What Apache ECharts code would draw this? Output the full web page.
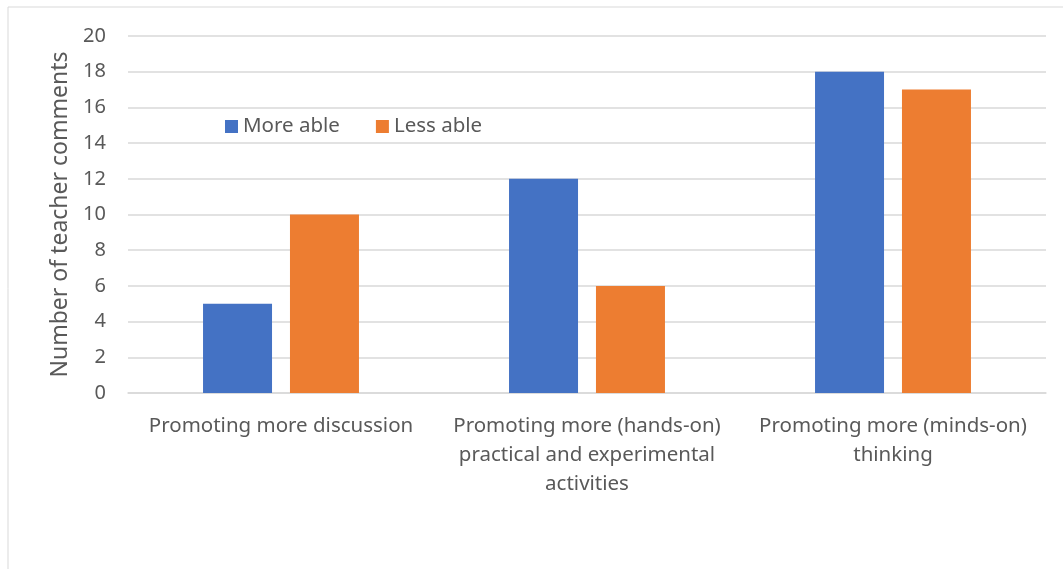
<!DOCTYPE html>
<html><head><meta charset="utf-8">
<script src="https://cdn.jsdelivr.net/npm/echarts@6/dist/echarts.min.js"></script>
<style>html,body{margin:0;padding:0;background:#fff}#c{width:1063px;height:569px}</style>
</head><body><div id="c"></div>
<script>
const categories = ["Promoting more discussion", "Promoting more (hands-on)\npractical and experimental\nactivities", "Promoting more (minds-on)\nthinking"];
const moreAble = [5, 12, 18];
const lessAble = [10, 6, 17];
const yTicks = [0, 2, 4, 6, 8, 10, 12, 14, 16, 18, 20];
const FONT = "'Noto Sans', 'Open Sans', sans-serif";
const chart = echarts.init(document.getElementById('c'));
chart.setOption({
  animation: false,
  graphic: [{type: 'rect', shape: {x: 8, y: 7, width: 1200, height: 800}, style: {fill: 'none', stroke: '#d9d9d9', lineWidth: 1}, silent: true}],
  legend: {
    left: 220, top: 111, itemWidth: 13, itemHeight: 13, itemGap: 36,
    textStyle: {fontFamily: FONT, fontSize: 20.5, color: '#595959'},
    data: [{name: 'More able', icon: 'rect'}, {name: 'Less able', icon: 'rect'}]
  },
  grid: {left: 128, right: 17, top: 36, bottom: 176, containLabel: false},
  xAxis: {
    type: 'category', data: categories,
    axisLine: {lineStyle: {color: '#d9d9d9', width: 1.5}},
    axisTick: {show: false},
    axisLabel: {fontFamily: FONT, fontSize: 20.5, color: '#595959', lineHeight: 29, margin: 19, interval: 0}
  },
  yAxis: {
    type: 'value', min: yTicks[0], max: yTicks[yTicks.length - 1], interval: 2,
    name: 'Number of teacher comments', nameLocation: 'middle', nameGap: 55,
    nameTextStyle: {fontFamily: FONT, fontSize: 23, color: '#595959'},
    axisLine: {show: false}, axisTick: {show: false},
    axisLabel: {fontFamily: FONT, fontSize: 20, color: '#595959', margin: 22},
    splitLine: {lineStyle: {color: '#d9d9d9', width: 1.5}}
  },
  series: [
    {name: 'More able', type: 'bar', data: moreAble, barWidth: 69, barGap: '26%', itemStyle: {color: '#4472c4'}},
    {name: 'Less able', type: 'bar', data: lessAble, barWidth: 69, itemStyle: {color: '#ed7d31'}}
  ]
});
</script></body></html>
